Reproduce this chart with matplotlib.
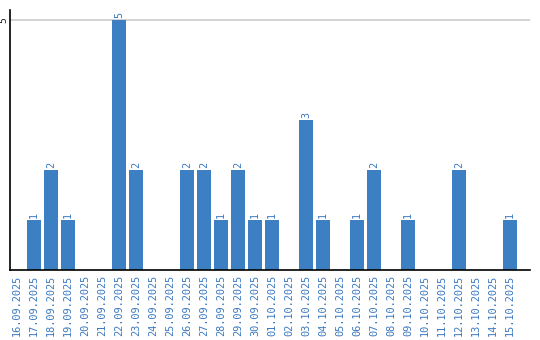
import matplotlib
matplotlib.use("Agg")
import matplotlib.pyplot as plt

dates = ["16.09.2025", "17.09.2025", "18.09.2025", "19.09.2025", "20.09.2025",
         "21.09.2025", "22.09.2025", "23.09.2025", "24.09.2025", "25.09.2025",
         "26.09.2025", "27.09.2025", "28.09.2025", "29.09.2025", "30.09.2025",
         "01.10.2025", "02.10.2025", "03.10.2025", "04.10.2025", "05.10.2025",
         "06.10.2025", "07.10.2025", "08.10.2025", "09.10.2025", "10.10.2025",
         "11.10.2025", "12.10.2025", "13.10.2025", "14.10.2025", "15.10.2025"]
counts = [0, 1, 2, 1, 0, 0, 5, 2, 0, 0, 2, 2, 1, 2, 1,
          1, 0, 3, 1, 0, 1, 2, 0, 1, 0, 0, 2, 0, 0, 1]

BAR_COLOR = "#3c7fc3"
TEXT_COLOR = "#3a78c0"

fig = plt.figure(figsize=(5.4, 3.4), dpi=100)
ax = fig.add_axes([10 / 540, 1 - 270 / 340, 520 / 540, 260 / 340])

x = list(range(len(dates)))
ax.bar(x, counts, width=0.82, color=BAR_COLOR, zorder=2)

for xi, c in zip(x, counts):
    if c > 0:
        ax.text(xi, c + 0.04, str(c), rotation=90, ha="center", va="bottom",
                color=TEXT_COLOR, fontsize=7.3, family="DejaVu Sans Mono")

ax.set_xlim(-0.41, 30.18)
ax.set_ylim(0, 5.2)
ax.set_yticks([5])
ax.set_yticklabels(["5"], rotation=90, va="center", fontsize=7,
                   family="DejaVu Sans Mono", color="#222222")
ax.yaxis.grid(True, color="#cccccc", linewidth=1.2, zorder=0)
ax.tick_params(axis="y", length=0, pad=1)

ax.set_xticks(x)
ax.set_xticklabels(dates, rotation=90, fontsize=7.4, family="DejaVu Sans Mono",
                   color=TEXT_COLOR)
ax.tick_params(axis="x", length=0, pad=3.5)

for side in ["top", "right"]:
    ax.spines[side].set_visible(False)
for side in ["left", "bottom"]:
    ax.spines[side].set_color("black")
    ax.spines[side].set_linewidth(1.2)

fig.savefig("out.png", dpi=100)
